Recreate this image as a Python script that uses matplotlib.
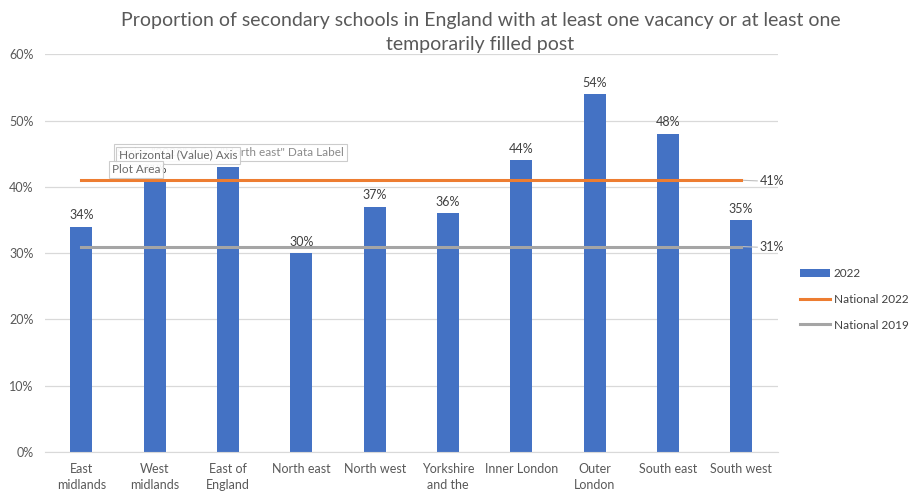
import numpy as np
import matplotlib.pyplot as plt

regions = ["East\nmidlands", "West\nmidlands", "East of\nEngland", "North east", "North west",
           "Yorkshire\nand the", "Inner London", "Outer\nLondon", "South east", "South west"]
share_2022 = [34, 41, 43, 30, 37, 36, 44, 54, 48, 35]
national_2022 = 41
national_2019 = 31
y_ticks = [0, 10, 20, 30, 40, 50, 60]

plt.rcParams['font.family'] = ['Lato', 'DejaVu Sans']
grey_txt = '#595959'

fig = plt.figure(figsize=(9.15, 4.93), dpi=100)
ax = fig.add_axes([0.049, 0.083, 0.801, 0.807])

x = np.arange(len(regions))
bars = ax.bar(x, share_2022, width=0.3, color='#4472C4', label='2022', zorder=2)
l22, = ax.plot(x, [national_2022] * len(x), color='#ED7D31', lw=2.2, label='National 2022', zorder=3)
l19, = ax.plot(x, [national_2019] * len(x), color='#A5A5A5', lw=2.2, label='National 2019', zorder=3)

for xi, v in zip(x, share_2022):
    ax.text(xi, v + 0.8, f'{v}%', ha='center', va='bottom', fontsize=9, color='#404040')

# end-of-line labels with short leader lines
for v in (national_2022, national_2019):
    ax.plot([x[-1], x[-1] + 0.22], [v, v - 0.1], color='#BFBFBF', lw=0.8, clip_on=False)
    ax.text(x[-1] + 0.25, v - 0.1, f'{v}%', ha='left', va='center', fontsize=9, color='#404040')

ax.set_xlim(-0.5, 9.5)
ax.set_ylim(0, 60)
ax.set_yticks(y_ticks)
ax.set_yticklabels([f'{t}%' for t in y_ticks])
ax.set_xticks(x)
ax.set_xticklabels(regions, linespacing=1.35)
ax.tick_params(axis='both', length=0, labelsize=9, colors=grey_txt)
ax.tick_params(axis='y', pad=8)
ax.tick_params(axis='x', pad=8)
ax.yaxis.grid(True, color='#D9D9D9', lw=0.9, zorder=0)
for s in ['top', 'right', 'left']:
    ax.spines[s].set_visible(False)
ax.spines['bottom'].set_color('#D9D9D9')

fig.suptitle('Proportion of secondary schools in England with at least one vacancy or at least one\ntemporarily filled post',
             x=0.525, y=0.975, fontsize=14, color=grey_txt, linespacing=1.45)

fig.legend([bars, l22, l19], ['2022', 'National 2022', 'National 2019'], loc='center left',
           bbox_to_anchor=(0.874, 0.393), frameon=False, fontsize=8.5, labelcolor='#404040',
           handlelength=2.6, handletextpad=0.3, labelspacing=1.25, borderpad=0, borderaxespad=0)

# hover tooltips over the chart
tip = dict(boxstyle='square,pad=0.25', fc='white', ec='#C8C8C8', lw=0.8, alpha=0.92)
fig.text(0.128, 0.683, 'Series "2022" Point "North east" Data Label', fontsize=8.5, color='#8A8A8A', bbox=tip)
fig.text(0.130, 0.678, 'Horizontal (Value) Axis', fontsize=8.5, color='#6A6A6A', bbox=tip)
fig.text(0.122, 0.650, 'Plot Area', fontsize=8.5, color='#6A6A6A', bbox=tip)

fig.savefig('out.png', dpi=100)
